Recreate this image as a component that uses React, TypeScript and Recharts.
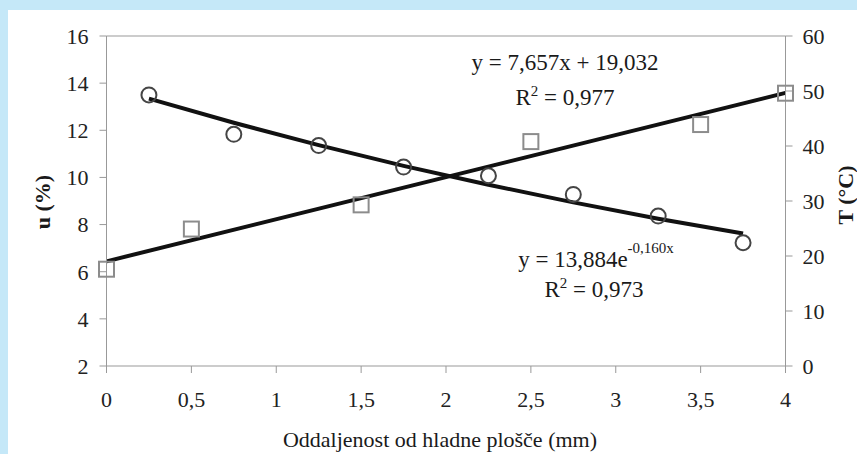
import React from 'react';
import { ComposedChart, Scatter, Line, XAxis, YAxis, ReferenceLine } from 'recharts';

// Moisture content u (%) measured points
const uPoints = [
  { x: 0.25, y: 13.5 },
  { x: 0.75, y: 11.83 },
  { x: 1.25, y: 11.35 },
  { x: 1.75, y: 10.44 },
  { x: 2.25, y: 10.07 },
  { x: 2.75, y: 9.28 },
  { x: 3.25, y: 8.36 },
  { x: 3.75, y: 7.23 },
];

// Temperature T (°C) measured points
const tPoints = [
  { x: 0, y: 17.6 },
  { x: 0.5, y: 24.9 },
  { x: 1.5, y: 29.3 },
  { x: 2.5, y: 40.8 },
  { x: 3.5, y: 43.9 },
  { x: 4, y: 49.6 },
];

// Exponential trendline of u
const uTrend = [
  { x: 0.25, y: 13.34 },
  { x: 0.75, y: 12.32 },
  { x: 1.25, y: 11.37 },
  { x: 1.75, y: 10.49 },
  { x: 2.25, y: 9.69 },
  { x: 2.75, y: 8.94 },
  { x: 3.25, y: 8.25 },
  { x: 3.75, y: 7.62 },
];

// Linear trendline of T
const tTrend = [
  { x: 0, y: 19.03 },
  { x: 4, y: 49.66 },
];

const xTicks = [0, 0.5, 1, 1.5, 2, 2.5, 3, 3.5, 4];
const uTicks = [2, 4, 6, 8, 10, 12, 14, 16];
const tTicks = [0, 10, 20, 30, 40, 50, 60];

const FONT = 'Liberation Serif';
const AXIS = '#999999';

const fmt = (v: number) => String(v).replace('.', ',');

const CircleShape = (props: any) => (
  <circle cx={props.cx} cy={props.cy} r={7.5} fill="none" stroke="#454545" strokeWidth={2} />
);
const SquareShape = (props: any) => (
  <rect x={props.cx - 7.5} y={props.cy - 7.5} width={15} height={15} fill="none" stroke="#8c8c8c" strokeWidth={2} />
);

const tickStyle = { fill: '#222222', fontSize: 22, fontFamily: FONT };

export default function App() {
  return (
    <div style={{ position: 'absolute', left: 0, top: 0, width: 857, height: 454, background: '#c5e8f8' }}>
      <div style={{ position: 'absolute', left: 8, top: 10, width: 849, height: 444, background: '#ffffff' }} />
      <div style={{ position: 'absolute', left: 0, top: 0 }}>
        <ComposedChart width={857} height={454} margin={{ top: 36, right: 0, bottom: 0, left: 0 }}>
          <XAxis
            type="number"
            dataKey="x"
            domain={[0, 4]}
            ticks={xTicks}
            tickFormatter={fmt}
            height={88}
            stroke={AXIS}
            tickSize={7}
            tickMargin={18}
            tick={tickStyle}
          />
          <YAxis
            yAxisId="left"
            type="number"
            dataKey="y"
            domain={[2, 16]}
            ticks={uTicks}
            width={106.5}
            stroke={AXIS}
            tickSize={7}
            tickMargin={11}
            tick={tickStyle}
          />
          <YAxis
            yAxisId="right"
            orientation="right"
            type="number"
            dataKey="y"
            domain={[0, 60]}
            ticks={tTicks}
            width={71.5}
            stroke={AXIS}
            tickSize={7}
            tickMargin={10}
            tick={tickStyle}
          />
          <ReferenceLine yAxisId="left" y={16} stroke={AXIS} />
          <Scatter yAxisId="left" data={uPoints} dataKey="y" shape={<CircleShape />} isAnimationActive={false} />
          <Scatter yAxisId="right" data={tPoints} dataKey="y" shape={<SquareShape />} isAnimationActive={false} />
          <Line yAxisId="left" data={uTrend} dataKey="y" type="linear" stroke="#111111" strokeWidth={4} dot={false} activeDot={false} isAnimationActive={false} />
          <Line yAxisId="right" data={tTrend} dataKey="y" type="linear" stroke="#111111" strokeWidth={4} dot={false} activeDot={false} isAnimationActive={false} />
        </ComposedChart>
      </div>
      <svg width={857} height={454} style={{ position: 'absolute', left: 0, top: 0, pointerEvents: 'none' }}>
        <g fontFamily={FONT} fill="#1a1a1a">
          <text x={565} y={70} fontSize={23} textAnchor="middle">y = 7,657x + 19,032</text>
          <text x={565} y={105} fontSize={23} textAnchor="middle">
            R<tspan fontSize={15} dy={-9}>2</tspan><tspan dy={9}> = 0,977</tspan>
          </text>
          <text x={596} y={267} fontSize={23} textAnchor="middle">
            y = 13,884e<tspan fontSize={15} dy={-14}>-0,160x</tspan>
          </text>
          <text x={594} y={297} fontSize={23} textAnchor="middle">
            R<tspan fontSize={15} dy={-9}>2</tspan><tspan dy={9}> = 0,973</tspan>
          </text>
          <text x={440} y={447} fontSize={22} textAnchor="middle">Oddaljenost od hladne plošče (mm)</text>
          <text transform="translate(50,202) rotate(-90)" fontSize={22} fontWeight="bold" textAnchor="middle">u (%)</text>
          <text transform="translate(853,195) rotate(-90)" fontSize={22} fontWeight="bold" textAnchor="middle">T (°C)</text>
        </g>
      </svg>
    </div>
  );
}
